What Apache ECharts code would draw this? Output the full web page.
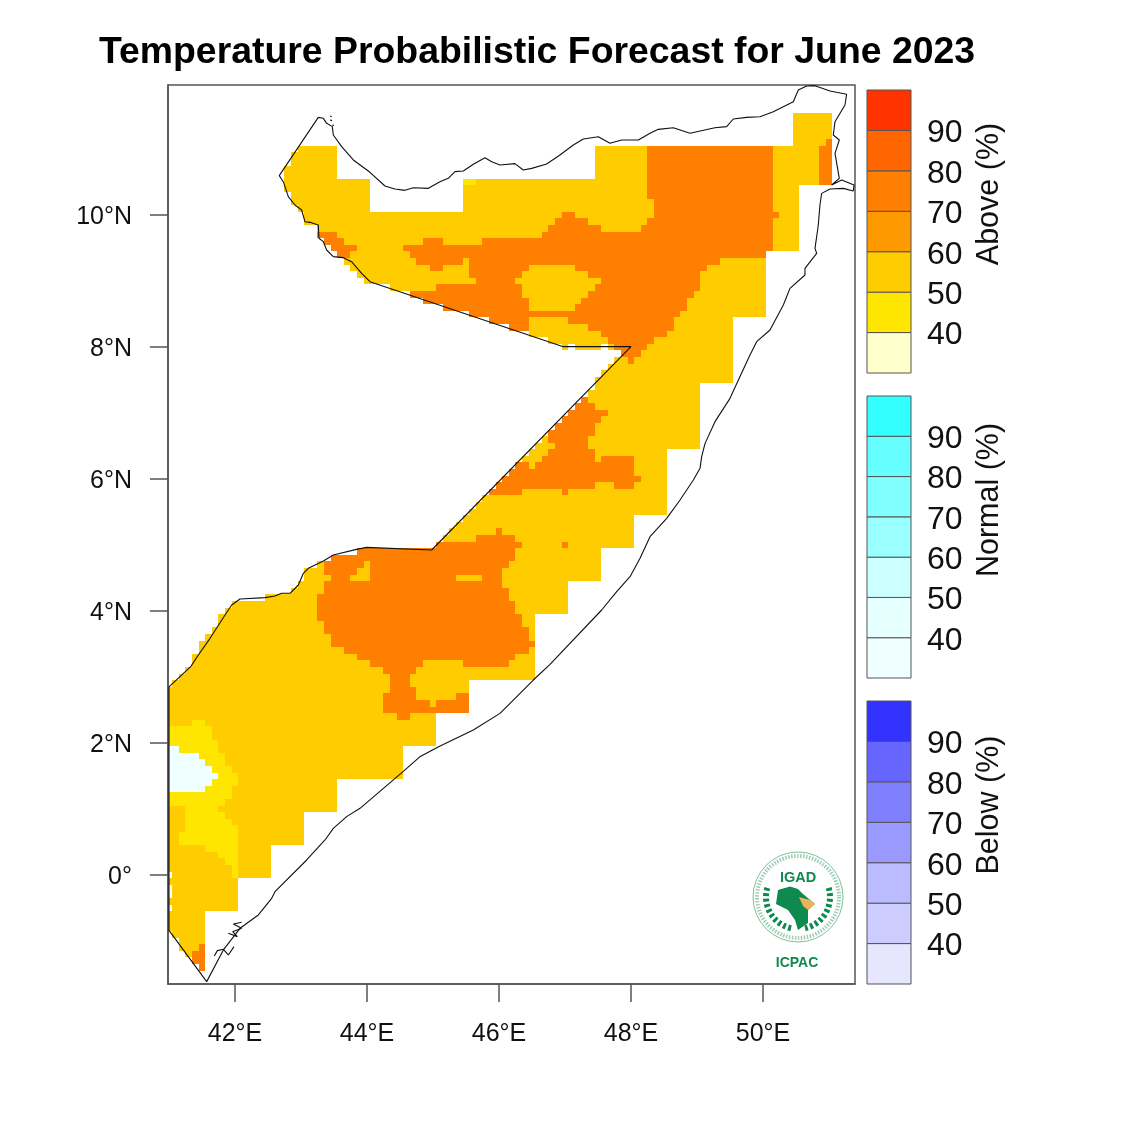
<!DOCTYPE html>
<html lang="en">

<head>
    <meta charset="UTF-8">
    <title>Temperature Probabilistic Forecast for June 2023</title>
    <script src="https://cdn.jsdelivr.net/npm/echarts@6/dist/echarts.min.js"></script>
    <style>
        html, body { margin: 0; padding: 0; background: #fff; }
    </style>
</head>

<body>
    <div id="myChart" style="width: 1125px; height: 1125px;"></div>
    <script>
        // forecast cells: [lon from, lon to, lat top, lat bottom], painted in this order
        const above50to60 = [
            [50.45, 51.05, 11.55, 11.05],
            [42.95, 43.55, 11.05, 10.95], [47.45, 51.05, 11.05, 10.95],
            [42.85, 43.55, 10.95, 10.75], [47.45, 51.05, 10.95, 10.75],
            [42.75, 43.55, 10.75, 10.55], [47.45, 51.05, 10.75, 10.55],
            [42.75, 44.05, 10.55, 10.45], [45.45, 51.05, 10.55, 10.45],
            [42.75, 44.05, 10.45, 10.35], [45.45, 50.55, 10.45, 10.35],
            [42.85, 44.05, 10.35, 10.15], [45.45, 50.55, 10.35, 10.15],
            [42.95, 44.05, 10.15, 10.05], [45.45, 50.55, 10.15, 10.05],
            [43.05, 50.55, 10.05, 9.85], [43.25, 50.55, 9.85, 9.65],
            [43.35, 50.55, 9.65, 9.55], [43.45, 50.55, 9.55, 9.45],
            [43.55, 50.05, 9.45, 9.35], [43.65, 50.05, 9.35, 9.25],
            [43.75, 50.05, 9.25, 9.15], [43.85, 50.05, 9.15, 9.05],
            [43.95, 50.05, 9.05, 8.95], [44.35, 50.05, 8.95, 8.85],
            [44.65, 50.05, 8.85, 8.75], [44.85, 50.05, 8.75, 8.65],
            [45.15, 50.05, 8.65, 8.55], [45.55, 50.05, 8.55, 8.45],
            [45.85, 49.55, 8.45, 8.35], [46.15, 49.55, 8.35, 8.25],
            [46.45, 49.55, 8.25, 8.15], [46.75, 49.55, 8.15, 8.05],
            [46.95, 47.05, 8.05, 7.95], [47.15, 47.55, 8.05, 7.95], [47.65, 49.55, 8.05, 7.95],
            [47.85, 49.55, 7.95, 7.85], [47.75, 49.55, 7.85, 7.75],
            [47.65, 49.55, 7.75, 7.65], [47.55, 49.55, 7.65, 7.55],
            [47.45, 49.55, 7.55, 7.45], [47.45, 49.05, 7.45, 7.35],
            [47.35, 49.05, 7.35, 7.25], [47.25, 49.05, 7.25, 7.15],
            [47.15, 49.05, 7.15, 7.05], [47.05, 49.05, 7.05, 6.95],
            [46.95, 49.05, 6.95, 6.85], [46.85, 49.05, 6.85, 6.75],
            [46.75, 49.05, 6.75, 6.65], [46.65, 49.05, 6.65, 6.55],
            [46.55, 49.05, 6.55, 6.45], [46.45, 48.55, 6.45, 6.35],
            [46.35, 48.55, 6.35, 6.25], [46.25, 48.55, 6.25, 6.15],
            [46.15, 48.55, 6.15, 6.05], [46.05, 48.55, 6.05, 5.95],
            [45.95, 48.55, 5.95, 5.85], [45.85, 48.55, 5.85, 5.75],
            [45.75, 48.55, 5.75, 5.65], [45.65, 48.55, 5.65, 5.55],
            [45.55, 48.55, 5.55, 5.45], [45.45, 48.05, 5.45, 5.35],
            [45.35, 48.05, 5.35, 5.25], [45.25, 48.05, 5.25, 5.15],
            [45.15, 48.05, 5.15, 5.05], [45.05, 48.05, 5.05, 4.95],
            [43.85, 47.55, 4.95, 4.85], [43.45, 47.55, 4.85, 4.75],
            [43.25, 47.55, 4.75, 4.65], [43.05, 47.55, 4.65, 4.45],
            [42.95, 47.05, 4.45, 4.35],
            [42.85, 47.05, 4.35, 4.25], [42.45, 47.05, 4.25, 4.15],
            [41.95, 47.05, 4.15, 4.05], [41.85, 47.05, 4.05, 3.95],
            [41.75, 46.55, 3.95, 3.75], [41.65, 46.55, 3.75, 3.65],
            [41.55, 46.55, 3.65, 3.55], [41.45, 46.55, 3.55, 3.35],
            [41.35, 46.55, 3.35, 3.15], [41.25, 46.55, 3.15, 3.05],
            [41.15, 46.55, 3.05, 2.95], [41.05, 45.55, 2.95, 2.85],
            [41, 45.55, 2.85, 2.45], [41, 45.05, 2.45, 1.95],
            [41, 44.55, 1.95, 1.45], [41, 43.55, 1.45, 0.95],
            [41, 43.05, 0.95, 0.45], [41, 42.55, 0.45, 0.05],
            [41.05, 42.55, 0.05, -0.05], [41, 42.05, -0.05, -0.15],
            [41.05, 42.05, -0.15, -0.35], [41, 42.05, -0.35, -0.45],
            [41.05, 42.05, -0.45, -0.55], [41, 41.55, -0.55, -0.85],
            [41.05, 41.55, -0.85, -0.95], [41.15, 41.55, -0.95, -1.15],
            [41.25, 41.55, -1.15, -1.25]
        ];

        const above70to80 = [
            [50.95, 51.05, 11.15, 11.05], [50.85, 51.05, 11.05, 10.45],
            [48.25, 50.15, 11.05, 10.25], [48.35, 50.15, 10.25, 10.05],
            [46.95, 47.15, 10.05, 9.95], [48.35, 50.25, 10.05, 9.95],
            [46.85, 47.35, 9.95, 9.85], [48.25, 50.15, 9.95, 9.85],
            [46.75, 47.55, 9.85, 9.75], [48.15, 50.15, 9.85, 9.75],
            [46.65, 50.15, 9.75, 9.65],
            [44.85, 45.15, 9.65, 9.55], [45.75, 50.15, 9.65, 9.55],
            [44.55, 50.15, 9.55, 9.45], [44.65, 50.05, 9.45, 9.35],
            [44.75, 45.45, 9.35, 9.25], [45.55, 49.35, 9.35, 9.25],
            [44.95, 45.15, 9.25, 9.15], [45.55, 46.45, 9.25, 9.15], [47.15, 49.15, 9.25, 9.15],
            [45.55, 46.35, 9.15, 9.05], [47.35, 49.05, 9.15, 9.05],
            [45.65, 46.25, 9.05, 8.95], [47.55, 49.05, 9.05, 8.95],
            [45.05, 46.35, 8.95, 8.85], [47.45, 49.05, 8.95, 8.85],
            [44.65, 46.35, 8.85, 8.75], [47.35, 48.95, 8.85, 8.75],
            [44.85, 46.45, 8.75, 8.65], [47.25, 48.85, 8.75, 8.65],
            [45.15, 46.45, 8.65, 8.55], [47.15, 48.85, 8.65, 8.55],
            [45.55, 48.75, 8.55, 8.45],
            [45.85, 46.45, 8.45, 8.35], [47.05, 48.65, 8.45, 8.35],
            [46.15, 46.45, 8.35, 8.25], [47.35, 48.65, 8.35, 8.25],
            [47.55, 48.55, 8.25, 8.15], [47.65, 48.35, 8.15, 8.05],
            [47.75, 48.25, 8.05, 7.95], [47.85, 48.15, 7.95, 7.85],
            [47.95, 48.05, 7.85, 7.75],
            // coast near Hargeisa
            [43.25, 43.55, 9.75, 9.65], [43.35, 43.65, 9.65, 9.55],
            [43.45, 43.85, 9.55, 9.45], [43.55, 43.75, 9.45, 9.35],
            // Ethiopian border
            [47.25, 47.35, 7.25, 7.15], [47.15, 47.45, 7.15, 7.05],
            [47.05, 47.65, 7.05, 6.95], [46.95, 47.55, 6.95, 6.85],
            [46.85, 47.45, 6.85, 6.75], [46.75, 47.45, 6.75, 6.65],
            [46.75, 47.35, 6.65, 6.55], [46.85, 47.35, 6.55, 6.45],
            [46.75, 47.45, 6.45, 6.35],
            [46.65, 47.45, 6.35, 6.25], [47.55, 48.05, 6.35, 6.25],
            [46.25, 46.45, 6.25, 6.15], [46.55, 48.05, 6.25, 6.15],
            [46.15, 48.05, 6.15, 6.05], [46.05, 48.15, 6.05, 5.95],
            [45.95, 47.45, 5.95, 5.85], [47.75, 48.05, 5.95, 5.85],
            [45.85, 46.35, 5.85, 5.75], [46.95, 47.05, 5.85, 5.75],
            [46.95, 47.05, 5.05, 4.95],
            // central block
            [45.95, 46.05, 5.25, 5.15], [45.65, 46.25, 5.15, 5.05],
            [45.05, 46.35, 5.05, 4.95], [43.85, 46.25, 4.95, 4.85],
            [43.45, 46.25, 4.85, 4.75],
            [43.35, 43.95, 4.75, 4.65], [44.05, 46.15, 4.75, 4.65],
            [43.35, 43.85, 4.65, 4.55], [44.05, 46.05, 4.65, 4.55],
            [43.45, 43.75, 4.55, 4.45], [44.05, 45.35, 4.55, 4.45], [45.75, 46.05, 4.55, 4.45],
            [43.35, 46.05, 4.45, 4.35], [43.35, 46.15, 4.35, 4.25],
            [43.25, 46.15, 4.25, 4.15], [43.25, 46.25, 4.15, 3.95],
            [43.25, 46.35, 3.95, 3.85], [43.35, 46.35, 3.85, 3.75],
            [43.35, 46.45, 3.75, 3.65], [43.45, 46.45, 3.65, 3.55],
            [43.45, 46.55, 3.55, 3.45], [43.65, 46.45, 3.45, 3.35],
            [43.85, 46.25, 3.35, 3.25],
            [44.05, 44.85, 3.25, 3.15], [45.45, 46.15, 3.25, 3.15],
            [44.25, 44.75, 3.15, 3.05], [44.35, 44.65, 3.05, 2.85],
            [44.35, 44.75, 2.85, 2.75],
            [44.25, 44.75, 2.75, 2.65], [45.35, 45.55, 2.75, 2.65],
            [44.25, 44.95, 2.65, 2.55], [45.05, 45.55, 2.65, 2.55],
            [44.25, 45.55, 2.55, 2.45], [44.45, 44.65, 2.45, 2.35],
            // southern tip
            [41.45, 41.55, -1.05, -1.15], [41.35, 41.55, -1.15, -1.35],
            [41.45, 41.55, -1.35, -1.45]
        ];

        const above40to50 = [
            [45.45, 45.65, 10.55, 10.45],
            [41.35, 41.55, 2.35, 2.25], [41, 41.65, 2.25, 2.05],
            [41, 41.75, 2.05, 1.85], [41, 41.85, 1.85, 1.65],
            [41, 41.95, 1.65, 1.55], [41, 42.05, 1.55, 1.35],
            [41, 41.95, 1.35, 1.15], [41, 41.85, 1.15, 1.05],
            [41.25, 41.75, 1.05, 0.95], [41.25, 41.85, 0.95, 0.85],
            [41.25, 41.95, 0.85, 0.75], [41.25, 42.05, 0.75, 0.65],
            [41.15, 42.05, 0.65, 0.45], [41.55, 42.05, 0.45, 0.35],
            [41.75, 42.05, 0.35, 0.25], [41.85, 42.05, 0.25, 0.15],
            [41.95, 42.05, 0.15, -0.05]
        ];

        const normal30to40 = [
            [41, 41.15, 1.95, 1.85], [41, 41.45, 1.85, 1.75],
            [41, 41.55, 1.75, 1.65], [41, 41.65, 1.65, 1.55],
            [41, 41.75, 1.55, 1.45], [41, 41.65, 1.45, 1.35],
            [41, 41.55, 1.35, 1.25]
        ];

        // Somalia outline, lon/lat
        const outline = [
            [43.262, 11.48], [43.338, 11.465], [43.389, 11.389], [43.474, 11.339], [43.49, 11.212],
            [43.616, 11.036], [43.793, 10.834], [44.045, 10.647], [44.272, 10.44], [44.424, 10.394],
            [44.575, 10.374], [44.702, 10.414], [44.929, 10.404], [45.106, 10.505], [45.232, 10.556],
            [45.333, 10.657], [45.459, 10.667], [45.611, 10.768], [45.788, 10.869], [45.889, 10.808],
            [46.015, 10.758], [46.242, 10.778], [46.368, 10.682], [46.495, 10.707], [46.722, 10.773],
            [46.924, 10.909], [47.126, 11.061], [47.278, 11.152], [47.505, 11.187], [47.682, 11.086],
            [47.858, 11.137], [48.111, 11.137], [48.288, 11.238], [48.414, 11.298], [48.641, 11.323],
            [48.894, 11.238], [49.272, 11.323], [49.449, 11.339], [49.55, 11.455], [49.752, 11.48],
            [49.954, 11.49], [50.156, 11.566], [50.459, 11.717], [50.535, 11.894], [50.661, 11.955],
            [50.788, 11.96], [51.015, 11.879], [51.267, 11.829], [51.242, 11.667], [51.091, 11.414],
            [51.065, 11.212], [51.156, 11.137], [51.091, 10.935], [51.156, 10.556], [51.04, 10.455],
            [51.192, 10.531], [51.379, 10.455], [51.368, 10.364], [51.217, 10.404], [51.015, 10.394],
            [50.889, 10.328], [50.863, 10.152], [50.838, 9.849], [50.788, 9.495], [50.813, 9.42],
            [50.636, 9.192], [50.636, 9.091], [50.409, 8.889], [50.308, 8.637], [50.106, 8.258],
            [49.904, 8.081], [49.803, 7.879], [49.65, 7.55], [49.5, 7.222], [49.273, 6.869],
            [49.122, 6.54], [49.071, 6.338], [49.046, 6.162], [48.945, 5.985], [48.743, 5.682],
            [48.541, 5.404], [48.288, 5.126], [48.137, 4.798], [47.985, 4.52], [47.783, 4.293],
            [47.556, 4.015], [46.773, 3.192], [46.52, 2.954], [46.217, 2.651], [46.015, 2.449],
            [45.611, 2.197], [45.1, 1.95], [44.8, 1.79], [44.55, 1.57], [44.2, 1.27],
            [43.894, 1.01], [43.692, 0.884], [43.49, 0.707], [43.364, 0.53], [43.086, 0.227],
            [42.606, -0.253], [42.556, -0.354], [42.354, -0.606], [42.076, -0.808], [41.824, -1.136],
            [41.571, -1.616], [41, -0.84], [41, 2.849], [41.329, 3.157], [41.445, 3.334],
            [41.622, 3.586], [41.849, 3.94], [41.95, 4.091], [42.076, 4.182], [42.455, 4.202],
            [42.606, 4.228], [42.707, 4.268], [42.834, 4.268], [42.96, 4.394], [43.036, 4.571],
            [43.111, 4.647], [43.339, 4.758], [43.49, 4.848], [43.84, 4.934], [43.995, 4.964],
            [44.98, 4.924], [48, 8.005], [46.975, 8.005], [44.045, 8.99], [43.919, 9.117],
            [43.767, 9.293], [43.641, 9.354], [43.49, 9.369], [43.389, 9.47], [43.338, 9.596],
            [43.272, 9.647], [43.262, 9.849], [43.136, 9.889], [43.06, 9.899], [43.01, 10.076],
            [42.909, 10.152], [42.808, 10.278], [42.732, 10.505], [42.671, 10.596], [43.262, 11.48]
        ];
        const islandsSouthA = [[41.687, -1.227], [41.733, -1.146], [41.824, -1.126], [41.899, -1.212], [41.985, -1.086]];
        const islandsSouthB = [[41.899, -0.884], [42.036, -0.934], [41.965, -0.859], [42.101, -0.808], [41.975, -0.742], [42.101, -0.717]];
        const islandsNorthA = [[43.44, 11.5], [43.465, 11.49]];
        const islandsNorthB = [[43.44, 11.44], [43.47, 11.43]];
        const islandsNorthC = [[43.475, 11.365], [43.5, 11.355]];

        const lonTicks = [42, 44, 46, 48, 50];
        const latTicks = [0, 2, 4, 6, 8, 10];
        const percentTicks = [40, 50, 60, 70, 80, 90];
        const percentBins = [[30, 40], [40, 50], [50, 60], [60, 70], [70, 80], [80, 90], [90, 100]];
        const aboveColors = ['#FFFFCC', '#FFE600', '#FFCC00', '#FF9900', '#FF8000', '#FF6600', '#FF3300'];
        const normalColors = ['#F0FFFF', '#E6FFFF', '#CCFFFF', '#99FFFF', '#80FFFF', '#66FFFF', '#33FFFF'];
        const belowColors = ['#E6E6FF', '#CCCCFF', '#BBBBFF', '#9999FF', '#8080FF', '#6666FF', '#3333FF'];

        const FONT = '"Liberation Sans", Arial, sans-serif';
        const myChart = echarts.init(document.getElementById('myChart'));

        // rectangles snap to whole pixels so neighbouring cells leave no seam
        function cellItem(color) {
            return function (params, api) {
                const a = api.coord([api.value(0), api.value(2)]);
                const b = api.coord([api.value(1), api.value(3)]);
                const x = Math.round(a[0]), y = Math.round(a[1]);
                return {
                    type: 'rect',
                    shape: { x: x, y: y, width: Math.round(b[0]) - x, height: Math.round(b[1]) - y },
                    style: { fill: color }
                };
            };
        }

        function cellSeries(cells, color) {
            return {
                type: 'custom', xAxisIndex: 0, yAxisIndex: 0, data: cells, clip: true, silent: true,
                encode: { x: [0, 1], y: [2, 3] }, renderItem: cellItem(color)
            };
        }

        function lineSeries(points) {
            return {
                type: 'line', xAxisIndex: 0, yAxisIndex: 0, data: points, showSymbol: false, silent: true,
                clip: true, z: 5, lineStyle: { color: '#111', width: 1.1 }
            };
        }

        function barSeries(colors, idx) {
            return {
                type: 'custom', xAxisIndex: idx, yAxisIndex: idx, silent: true,
                data: percentBins.map(b => [0, 1, b[1], b[0]]),
                encode: { x: [0, 1], y: [2, 3] },
                renderItem: function (params, api) {
                    const a = api.coord([0, api.value(2)]);
                    const b = api.coord([1, api.value(3)]);
                    return {
                        type: 'rect',
                        shape: { x: a[0], y: a[1], width: b[0] - a[0], height: b[1] - a[1] },
                        style: { fill: colors[params.dataIndex], stroke: '#555', lineWidth: 1 }
                    };
                }
            };
        }

        const barGrids = [{ top: 90, height: 283 }, { top: 396, height: 282 }, { top: 701, height: 283 }];

        const option = {
            animation: false,
            backgroundColor: '#fff',
            title: {
                text: 'Temperature Probabilistic Forecast for June 2023',
                left: 532, top: 29, textAlign: 'center',
                textStyle: { fontFamily: FONT, fontWeight: 'bold', fontSize: 37.4, color: '#000' }
            },
            grid: [
                { left: 168, top: 85, width: 687, height: 899, show: true, borderColor: '#555', borderWidth: 1.5, outerBoundsMode: 'none' }
            ].concat(barGrids.map(g => ({ left: 867, width: 44, top: g.top, height: g.height, outerBoundsMode: 'none' }))),
            xAxis: [
                {
                    type: 'value', gridIndex: 0, min: 40.985, max: 51.394,
                    splitLine: { show: false },
                    axisLine: { show: true, onZero: false, lineStyle: { color: '#555', width: 1.5 } },
                    axisTick: { show: true, length: 18, customValues: lonTicks, lineStyle: { color: '#555', width: 1.5 } },
                    axisLabel: {
                        margin: 38, customValues: lonTicks, fontFamily: FONT, fontSize: 25, color: '#111',
                        formatter: v => v + '°E'
                    }
                }
            ].concat(barGrids.map((g, i) => ({
                type: 'value', gridIndex: i + 1, min: 0, max: 1, show: false
            }))),
            yAxis: [
                {
                    type: 'value', gridIndex: 0, min: -1.652, max: 11.97,
                    splitLine: { show: false },
                    axisLine: { show: true, onZero: false, lineStyle: { color: '#555', width: 1.5 } },
                    axisTick: { show: true, length: 18, customValues: latTicks, lineStyle: { color: '#555', width: 1.5 } },
                    axisLabel: {
                        margin: 36, customValues: latTicks,
                        formatter: v => '{lat|' + (v === 0 ? '0°' : v + '°N') + '}',
                        rich: { lat: { fontFamily: FONT, fontSize: 25, color: '#111', padding: [4, 0, 0, 0] } }
                    }
                }
            ].concat(barGrids.map((g, i) => ({
                type: 'value', gridIndex: i + 1, min: 30, max: 100, position: 'right',
                splitLine: { show: false }, axisLine: { show: false }, axisTick: { show: false },
                axisLabel: {
                    margin: 16, customValues: percentTicks,
                    formatter: v => '{pct|' + v + '}',
                    rich: { pct: { fontFamily: FONT, fontSize: 32, color: '#111', padding: [6, 0, 0, 0] } }
                }
            }))),
            series: [
                cellSeries(above50to60, '#FFCC00'),
                cellSeries(above70to80, '#FF8000'),
                cellSeries(above40to50, '#FFE600'),
                cellSeries(normal30to40, '#F0FFFF'),
                lineSeries(outline),
                lineSeries(islandsSouthA), lineSeries(islandsSouthB),
                lineSeries(islandsNorthA), lineSeries(islandsNorthB), lineSeries(islandsNorthC),
                barSeries(aboveColors, 1),
                barSeries(normalColors, 2),
                barSeries(belowColors, 3)
            ],
            graphic: [
                { type: 'text', x: 990, y: 194, rotation: Math.PI / 2, style: { text: 'Above (%)', font: '30.5px ' + FONT, fill: '#111', align: 'center', verticalAlign: 'middle' } },
                { type: 'text', x: 990, y: 500, rotation: Math.PI / 2, style: { text: 'Normal (%)', font: '30.5px ' + FONT, fill: '#111', align: 'center', verticalAlign: 'middle' } },
                { type: 'text', x: 990, y: 805, rotation: Math.PI / 2, style: { text: 'Below (%)', font: '30.5px ' + FONT, fill: '#111', align: 'center', verticalAlign: 'middle' } },
                // IGAD / ICPAC logo
                { type: 'circle', shape: { cx: 798, cy: 897, r: 45 }, style: { fill: '#fff', stroke: '#7dbf9c', lineWidth: 1 } },
                { type: 'circle', shape: { cx: 798, cy: 897, r: 41 }, style: { fill: 'none', stroke: '#3f9c6d', lineWidth: 4, lineDash: [1.5, 1.5], opacity: 0.5 } },
                { type: 'arc', shape: { cx: 798, cy: 897, r: 32, startAngle: 1.79, endAngle: 3.43 }, style: { fill: 'none', stroke: '#0E8A4F', lineWidth: 6, lineDash: [3, 2.5] } },
                { type: 'arc', shape: { cx: 798, cy: 897, r: 32, startAngle: -0.29, endAngle: 1.35 }, style: { fill: 'none', stroke: '#0E8A4F', lineWidth: 6, lineDash: [3, 2.5] } },
                { type: 'polygon', shape: { points: [[778, 890], [790, 886.5], [798, 889], [803, 894], [815, 904], [808, 910], [808, 923], [798, 930], [795, 920], [788, 910], [776, 904]] }, style: { fill: '#0E8A4F' } },
                { type: 'polygon', shape: { points: [[799, 897], [810, 900], [815, 904], [808, 910], [803, 906]] }, style: { fill: '#EDB35C' } },
                { type: 'text', x: 798, y: 878, style: { text: 'IGAD', font: 'bold 14.5px ' + FONT, fill: '#0E8A4F', align: 'center', verticalAlign: 'middle' } },
                { type: 'text', x: 797, y: 963, style: { text: 'ICPAC', font: 'bold 14px ' + FONT, fill: '#0E8A4F', align: 'center', verticalAlign: 'middle' } }
            ]
        };

        myChart.setOption(option);
    </script>
</body>

</html>
